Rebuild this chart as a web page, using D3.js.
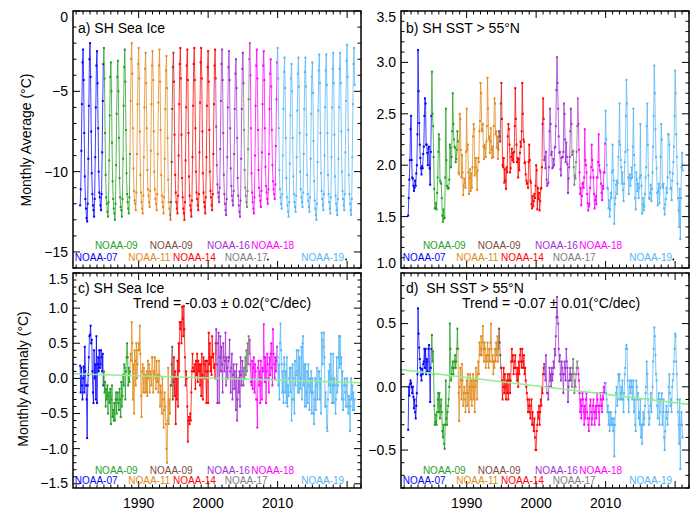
<!DOCTYPE html>
<html>
<head>
<meta charset="utf-8">
<script src="https://cdn.jsdelivr.net/npm/d3@7"></script>
<style>
 html,body{margin:0;padding:0;background:#fff;}
 svg{display:block;}
 text{font-family:"Liberation Sans", Arial, Helvetica, sans-serif; fill:#000;}
</style>
</head>
<body>
<svg width="697" height="515"></svg>
<script>
// ---------------- DATA ----------------
// monthly series, first value = Aug 1981, last value = Feb 2021
const startYear = 1981, startMonth = 8;

const iceAbs = [
 -12.1,-11.1,-8.7,-5.8,-3.2,
 -2.4,-4.3,-7.6,-10.3,-11.7,-12.3,-12.9,-13.1,-12.0,-9.2,-5.9,-3.0,
 -2.0,-4.1,-7.5,-10.1,-11.4,-12.1,-12.4,-12.8,-11.7,-9.1,-6.0,-3.4,
 -2.5,-4.5,-7.3,-10.0,-11.3,-11.6,-12.1,-12.4,-11.4,-8.8,-5.6,-3.3,
 -2.3,-4.2,-7.6,-10.2,-11.6,-12.0,-12.5,-12.8,-11.9,-9.3,-6.5,-4.1,
 -3.2,-5.0,-8.2,-10.6,-11.7,-12.3,-12.6,-13.0,-12.0,-9.6,-6.4,-4.1,
 -3.1,-5.0,-7.9,-10.4,-11.6,-12.2,-12.4,-12.8,-11.7,-9.2,-5.9,-3.5,
 -2.4,-4.4,-7.4,-10.1,-11.4,-11.9,-12.3,-12.6,-11.6,-8.9,-5.6,-3.0,
 -2.0,-3.9,-7.3,-9.8,-11.2,-11.8,-12.0,-12.4,-11.3,-8.9,-5.8,-3.3,
 -2.3,-4.2,-7.5,-10.2,-11.3,-11.9,-12.3,-12.6,-11.5,-9.1,-6.0,-3.6,
 -2.6,-4.5,-7.3,-9.9,-11.1,-11.5,-11.9,-12.2,-11.2,-8.7,-5.8,-3.4,
 -2.5,-4.3,-7.5,-10.0,-11.1,-11.7,-12.0,-12.4,-11.4,-8.9,-5.7,-3.4,
 -2.4,-4.4,-7.4,-10.2,-11.5,-11.9,-12.2,-12.6,-11.6,-9.2,-6.1,-3.7,
 -2.8,-4.8,-7.9,-10.5,-11.9,-12.3,-12.7,-13.0,-11.9,-9.4,-6.1,-3.5,
 -2.6,-4.4,-7.7,-10.2,-11.3,-11.9,-12.3,-12.6,-11.5,-9.0,-5.8,-3.3,
 -2.3,-4.2,-7.7,-10.4,-11.6,-12.3,-12.6,-13.0,-11.9,-9.3,-6.0,-3.4,
 -2.4,-4.3,-7.6,-10.3,-11.5,-12.1,-12.4,-12.8,-11.8,-9.1,-5.9,-3.3,
 -2.3,-4.3,-7.3,-10.0,-11.3,-11.7,-12.1,-12.4,-11.4,-8.8,-5.7,-3.2,
 -2.3,-4.2,-7.5,-10.1,-11.3,-11.9,-12.2,-12.6,-11.6,-9.1,-5.9,-3.5,
 -2.5,-4.4,-7.4,-10.0,-11.2,-11.6,-12.1,-12.4,-11.4,-8.9,-5.8,-3.4,
 -2.4,-4.2,-7.2,-9.6,-10.8,-11.3,-11.6,-11.9,-11.0,-8.6,-5.6,-3.3,
 -2.4,-4.3,-7.6,-10.2,-11.4,-12.0,-12.4,-12.7,-11.7,-9.1,-6.0,-3.5,
 -2.5,-4.3,-7.3,-9.8,-10.9,-11.5,-11.8,-12.1,-11.2,-8.9,-6.1,-3.9,
 -3.0,-4.8,-7.9,-10.4,-11.5,-12.1,-12.5,-12.8,-11.8,-9.2,-6.1,-3.6,
 -2.6,-4.5,-7.4,-9.9,-11.0,-11.5,-11.9,-12.2,-11.2,-8.6,-5.5,-3.0,
 -2.0,-4.0,-7.3,-10.1,-11.3,-11.9,-12.3,-12.6,-11.6,-9.0,-5.9,-3.4,
 -2.4,-4.2,-7.4,-9.9,-11.0,-11.5,-11.8,-12.2,-11.2,-8.8,-5.8,-3.4,
 -2.5,-4.3,-7.3,-9.7,-10.9,-11.3,-11.7,-12.0,-11.1,-8.9,-6.1,-3.9,
 -3.0,-4.7,-7.4,-9.6,-10.6,-11.1,-11.4,-11.7,-10.8,-8.4,-5.5,-3.2,
 -2.3,-4.2,-7.3,-9.9,-11.1,-11.6,-12.0,-12.3,-11.4,-9.0,-6.1,-3.8,
 -2.9,-4.8,-7.9,-10.4,-11.6,-12.1,-12.5,-12.8,-11.9,-9.5,-6.5,-4.2,
 -3.3,-5.0,-7.9,-10.3,-11.4,-11.9,-12.2,-12.5,-11.5,-9.1,-6.2,-3.9,
 -2.9,-4.7,-7.6,-10.0,-11.1,-11.6,-11.9,-12.2,-11.3,-8.9,-6.1,-3.8,
 -2.9,-4.7,-7.7,-10.2,-11.4,-11.8,-12.2,-12.5,-11.6,-9.2,-6.4,-4.1,
 -3.2,-5.1,-8.1,-10.6,-11.8,-12.3,-12.7,-13.0,-12.0,-9.4,-6.2,-3.7,
 -2.7,-4.5,-7.6,-10.1,-11.2,-11.7,-12.1,-12.4,-11.4,-9.0,-6.0,-3.7,
 -2.7,-4.6,-7.6,-10.2,-11.4,-11.9,-12.3,-12.6,-11.6,-9.1,-6.0,-3.6,
 -2.6,-4.5,-7.7,-10.3,-11.5,-12.0,-12.4,-12.7,-11.7,-9.2,-6.0,-3.6,
 -2.6,-4.5,-7.5,-10.0,-11.2,-11.7,-12.1,-12.4,-11.4,-8.8,-5.6,-3.1,
 -2.1,-4.1,-7.4,-10.2,-11.4,-12.0,-12.4,-12.7,-11.7,-9.1,-5.8,-3.3,
 -2.3,-4.6
];

const sstAbs = [
 1.51,1.68,1.86,2.05,2.35,
 2.48,2.05,1.88,1.87,1.80,1.75,1.78,1.85,1.80,1.92,2.00,2.30,
 3.12,2.72,2.41,2.20,2.07,1.97,1.91,1.99,1.97,2.11,2.18,2.48,
 2.65,2.60,2.20,2.20,2.12,2.00,2.16,2.18,1.97,1.81,2.13,2.48,
 2.91,2.50,2.38,2.08,1.77,1.58,1.58,1.63,1.57,1.73,1.88,2.13,
 2.30,2.25,1.85,1.83,1.82,1.68,1.51,1.45,1.57,1.48,1.49,1.88,
 2.55,2.05,1.80,1.78,1.77,1.78,1.86,2.20,2.17,1.98,2.08,2.33,
 2.70,2.40,2.25,2.18,2.17,2.03,2.06,2.15,2.33,2.23,1.93,1.91,
 2.50,2.45,2.15,1.88,2.10,1.93,1.71,1.80,1.87,1.83,1.78,2.13,
 2.55,2.15,2.20,1.93,1.72,1.88,1.96,1.75,1.92,1.78,1.98,2.28,
 2.40,2.35,1.90,1.98,2.07,1.93,1.76,1.95,2.07,2.03,2.33,2.43,
 2.80,2.70,2.35,2.33,2.40,2.18,2.06,2.20,2.17,2.08,2.23,2.38,
 2.85,2.55,2.25,2.28,2.12,2.23,2.36,2.15,2.07,2.18,2.08,2.38,
 2.65,2.60,2.30,2.33,2.17,2.28,2.06,2.15,2.33,2.28,2.23,2.60,
 2.80,2.45,2.00,1.98,2.07,1.83,1.96,1.85,1.77,1.98,1.93,2.28,
 2.40,2.35,2.20,1.93,1.97,2.08,2.16,2.05,2.12,2.03,2.13,2.38,
 2.75,2.45,2.20,2.03,2.07,1.88,2.06,1.95,2.12,2.23,2.18,2.33,
 2.80,2.50,2.25,2.23,2.02,2.03,1.91,1.85,1.82,1.83,1.78,2.03,
 2.20,2.05,1.85,1.83,1.62,1.58,1.70,1.60,1.65,1.72,1.68,1.80,
 2.00,1.95,1.57,1.78,1.67,1.73,1.56,1.65,1.77,1.78,1.98,2.40,
 2.65,2.45,2.05,2.08,1.97,2.13,1.86,1.80,1.82,1.83,1.98,2.33,
 2.55,2.40,2.10,2.13,1.97,1.98,2.06,2.00,2.17,2.18,2.38,2.73,
 3.05,2.80,2.55,2.28,2.12,2.13,1.96,1.90,2.07,2.08,2.08,2.13,
 2.60,2.50,2.25,2.03,2.22,2.08,2.01,1.73,1.87,1.98,2.08,2.33,
 2.55,2.40,2.10,2.13,2.14,1.98,1.81,1.90,1.87,2.03,2.13,2.38,
 2.65,2.40,2.15,1.93,1.72,1.78,1.61,1.70,1.82,1.83,1.78,1.88,
 2.35,2.05,2.00,1.93,1.72,1.63,1.56,1.60,1.62,1.78,1.88,1.98,
 2.20,2.05,1.95,1.88,1.72,1.58,1.66,1.70,1.62,1.88,1.88,2.03,
 2.30,2.00,1.95,1.93,1.82,1.73,1.66,1.80,1.77,1.93,1.93,2.21,
 2.53,2.25,2.00,1.78,1.77,1.58,1.66,1.50,1.57,1.73,1.68,1.93,
 2.20,1.95,1.85,1.43,1.62,1.68,1.81,1.85,1.72,1.83,2.08,2.23,
 2.60,2.20,2.05,1.98,1.82,1.93,1.76,1.65,1.82,2.03,2.13,2.48,
 2.83,2.60,2.15,1.88,1.72,1.88,1.91,1.80,1.87,1.98,1.88,2.18,
 2.55,2.10,2.00,1.68,1.57,1.93,1.86,1.75,1.82,1.68,1.78,1.88,
 2.40,1.90,1.80,1.53,1.62,1.68,1.56,1.60,1.72,1.88,1.98,2.38,
 2.60,2.20,1.90,1.68,1.67,1.73,1.81,1.65,1.77,1.93,2.18,2.48,
 2.97,2.70,2.35,2.08,1.97,1.73,1.61,1.75,1.82,1.63,1.78,2.08,
 2.40,2.25,1.80,1.78,1.82,1.58,1.52,1.62,1.67,1.78,1.73,1.88,
 2.30,2.30,2.20,1.93,1.77,1.78,1.66,1.85,1.92,2.03,2.18,2.48,
 2.92,2.70,2.30,2.08,1.82,1.68,1.56,1.40,1.77,1.28,1.68,1.98,
 2.12,1.95
];

const iceAnom = [
 0.18,-0.2,0.15,-0.1,-0.3,
 0.0,0.17,-0.2,0.45,0.1,-0.1,-0.3,-0.85,-0.1,0.05,0.3,0.6,
 0.62,0.75,0.5,0.55,0.1,-0.2,-0.35,0.4,0.0,0.2,-0.3,0.6,
 -0.35,0.2,0.3,0.1,0.4,0.15,0.2,0.4,0.3,0.1,0.35,-0.1,
 0.1,-0.2,-0.05,-0.4,-0.15,-0.3,-0.1,-0.5,-0.25,-0.2,-0.35,-0.15,
 -0.65,-0.3,-0.1,-0.55,-0.45,-0.6,-0.35,-0.6,-0.3,-0.2,-0.5,-0.3,
 -0.2,-0.35,-0.45,-0.15,-0.3,-0.55,-0.05,-0.4,-0.25,0.05,-0.1,0.2,
 0.15,-0.3,0.1,0.3,0.5,0.3,-0.1,0.15,-0.05,0.1,0.35,0.25,
 0.8,0.5,-0.3,0.2,-0.5,0.4,0.25,-0.1,0.5,0.0,0.2,0.4,
 0.5,0.4,0.75,0.35,-0.25,-0.55,0.1,0.2,-0.2,0.15,0.05,-0.2,
 0.05,-0.2,0.1,-0.25,0.25,0.0,0.2,-0.2,0.1,0.05,-0.1,0.3,
 0.3,-0.2,0.1,0.05,0.3,0.0,-0.15,0.25,-0.05,0.05,-0.2,0.25,
 0.05,-0.4,-0.1,-0.2,-0.5,0.0,-0.3,-0.7,-0.45,-0.2,-0.4,-0.65,
 -1.0,-1.2,-0.6,0.15,-0.65,-0.3,-0.5,-0.1,-0.1,0.2,0.45,-0.3,
 -0.05,0.3,-0.25,0.1,-0.65,0.0,-0.3,0.25,-0.4,0.5,0.1,0.8,
 0.7,0.8,0.5,1.02,0.85,0.6,1.03,0.7,0.3,-0.1,0.1,0.0,
 -0.4,-0.9,-0.6,-0.55,-0.65,-0.5,-0.6,-0.2,0.1,0.35,0.15,0.1,
 0.1,0.2,-0.15,0.25,0.05,0.35,-0.05,0.25,0.1,0.2,-0.1,0.2,
 -0.25,0.35,0.05,-0.3,0.3,0.2,0.0,0.25,0.1,-0.35,0.25,0.1,
 -0.35,0.65,0.2,0.5,0.1,0.3,0.05,0.6,0.3,0.35,0.15,0.2,
 0.0,0.5,0.7,0.2,-0.35,0.5,0.65,-0.35,0.3,0.6,0.1,0.45,
 0.2,-0.2,0.5,0.3,0.1,0.25,0.65,-0.1,0.3,0.15,0.0,0.25,
 0.3,0.55,0.1,-0.2,0.15,0.35,-0.3,0.05,0.2,-0.15,0.1,0.0,
 -0.45,0.2,-0.6,-0.3,0.0,-0.2,0.1,-0.4,0.3,0.05,-0.1,0.25,
 0.1,-0.1,0.15,0.0,0.3,0.05,0.4,0.1,0.5,0.2,0.6,0.35,
 0.55,0.2,-0.05,-0.1,0.25,-0.15,0.15,0.3,-0.2,0.2,0.1,-0.3,
 -0.3,-0.7,0.15,0.25,-0.1,0.1,-0.35,0.25,0.0,-0.3,0.15,0.1,
 0.77,0.3,-0.05,0.3,-0.35,0.1,0.35,0.2,0.0,-0.2,0.3,0.05,
 0.35,0.5,0.15,-0.1,0.7,0.35,0.2,0.0,0.3,0.1,0.25,0.45,
 0.3,-0.1,0.2,-0.3,0.5,0.78,0.4,0.2,-0.2,0.1,-0.35,0.3,
 0.2,-0.2,0.1,-0.35,0.3,-0.4,-0.1,-0.25,0.0,0.15,-0.2,0.15,
 -0.6,-0.3,0.2,0.0,-0.3,-0.5,0.25,-0.1,0.05,0.4,0.1,-0.2,
 0.4,-0.2,0.3,-0.15,0.0,0.45,-0.3,0.5,0.6,-0.1,0.2,-0.4,
 0.2,-0.4,-0.2,0.1,-0.35,0.2,-0.1,-0.45,0.0,-0.2,0.1,-0.5,
 0.0,-0.2,-0.5,-0.65,-0.3,0.0,-0.45,-0.1,0.15,-0.3,-0.05,0.1,
 0.1,-0.3,0.0,-0.5,0.65,0.55,0.2,0.45,0.65,0.3,-0.4,-0.2,
 -0.4,-0.7,-0.75,-0.3,0.1,-0.1,0.2,-0.2,0.35,0.0,-0.35,-0.1,
 0.35,-0.35,0.0,-0.1,-0.5,-0.3,0.3,-0.2,-0.1,0.3,0.6,0.15,
 0.6,0.2,0.3,-0.3,0.1,-0.45,-0.3,-0.1,0.0,-0.2,-0.4,-0.1,
 0.0,-0.4,-0.5,-0.25,-0.3,-0.75,-0.4,0.0,-0.3,-0.1,-0.45,-0.2,
 -0.45,-0.3
];

const sstAnom = [
 -0.34,0.00,-0.07,0.02,0.05,
 0.03,0.00,-0.05,0.00,-0.08,-0.17,-0.10,-0.20,-0.25,-0.15,-0.05,0.10,
 0.62,0.42,0.31,0.22,0.15,0.09,0.05,0.14,0.10,0.18,0.20,0.30,
 0.15,0.30,0.10,0.22,0.20,0.12,0.30,0.33,0.10,-0.12,0.15,0.30,
 0.41,0.20,0.28,0.10,-0.15,-0.30,-0.28,-0.22,-0.30,-0.20,-0.10,-0.05,
 -0.20,-0.05,-0.25,-0.15,-0.10,-0.20,-0.35,-0.40,-0.30,-0.45,-0.49,-0.30,
 0.05,-0.25,-0.30,-0.20,-0.15,-0.10,0.00,0.50,0.30,0.05,0.10,0.15,
 0.20,0.10,0.15,0.20,0.25,0.15,0.20,0.30,0.46,0.30,-0.05,-0.27,
 0.00,0.15,0.05,-0.10,0.18,0.05,-0.15,-0.05,0.00,-0.10,-0.20,-0.05,
 0.05,-0.15,0.10,-0.05,-0.20,0.00,0.10,-0.10,0.05,-0.15,0.00,0.10,
 -0.10,0.05,-0.20,0.00,0.15,0.05,-0.10,0.10,0.20,0.10,0.35,0.25,
 0.30,0.40,0.25,0.35,0.48,0.30,0.20,0.35,0.30,0.15,0.25,0.20,
 0.35,0.25,0.15,0.30,0.20,0.35,0.50,0.30,0.20,0.25,0.10,0.20,
 0.15,0.30,0.20,0.35,0.25,0.40,0.20,0.30,0.46,0.35,0.25,0.15,
 0.15,0.05,-0.10,0.00,0.15,-0.05,0.10,0.00,-0.10,0.05,-0.05,0.10,
 -0.10,0.05,0.10,-0.05,0.05,0.20,0.30,0.20,0.25,0.10,0.15,0.20,
 0.25,0.15,0.10,0.05,0.15,0.00,0.20,0.10,0.25,0.30,0.20,0.15,
 0.30,0.20,0.15,0.25,0.10,0.15,0.05,0.00,-0.05,-0.10,-0.20,-0.15,
 -0.10,-0.20,-0.25,-0.15,-0.10,-0.30,-0.20,-0.30,-0.35,-0.25,-0.40,-0.50,
 -0.50,-0.35,-0.30,-0.20,-0.25,-0.15,-0.30,-0.20,-0.10,-0.15,0.00,-0.05,
 0.10,0.15,0.18,0.10,0.05,0.25,0.00,-0.05,-0.05,-0.10,0.00,0.15,
 0.05,0.10,0.00,0.15,0.05,0.10,0.20,0.15,0.30,0.25,0.40,0.55,
 0.71,0.55,0.50,0.30,0.20,0.25,0.10,0.05,0.20,0.15,0.10,-0.05,
 0.10,0.20,0.15,0.05,0.30,0.20,0.15,-0.12,0.00,0.05,0.10,0.15,
 0.05,0.10,0.00,0.15,0.22,0.10,-0.05,0.05,0.00,0.10,0.15,0.20,
 0.15,0.10,0.05,-0.05,-0.20,-0.10,-0.25,-0.15,-0.05,-0.10,-0.20,-0.30,
 -0.15,-0.25,-0.10,-0.05,-0.20,-0.25,-0.30,-0.35,-0.25,-0.15,-0.10,-0.20,
 -0.30,-0.25,-0.15,-0.10,-0.20,-0.30,-0.20,-0.15,-0.25,-0.05,-0.10,-0.15,
 -0.20,-0.30,-0.15,-0.05,-0.10,-0.15,-0.20,-0.05,-0.10,0.00,-0.05,0.03,
 0.03,-0.05,-0.10,-0.20,-0.15,-0.30,-0.20,-0.35,-0.30,-0.20,-0.30,-0.25,
 -0.30,-0.35,-0.25,-0.55,-0.30,-0.20,-0.05,0.00,-0.15,-0.10,0.10,0.05,
 0.10,-0.10,-0.05,0.00,-0.10,0.05,-0.10,-0.20,-0.05,0.10,0.15,0.30,
 0.33,0.30,0.05,-0.10,-0.20,0.00,0.05,-0.05,0.00,0.05,-0.10,0.00,
 0.05,-0.20,-0.10,-0.30,-0.35,0.05,0.00,-0.10,-0.05,-0.25,-0.20,-0.30,
 -0.10,-0.40,-0.30,-0.45,-0.30,-0.20,-0.30,-0.25,-0.15,-0.05,0.00,0.20,
 0.10,-0.10,-0.20,-0.30,-0.25,-0.15,-0.05,-0.20,-0.10,0.00,0.20,0.30,
 0.47,0.40,0.25,0.10,0.05,-0.15,-0.25,-0.10,-0.05,-0.30,-0.20,-0.10,
 -0.10,-0.05,-0.30,-0.20,-0.10,-0.40,-0.50,-0.35,-0.20,-0.15,-0.25,-0.30,
 -0.20,0.00,0.10,-0.05,-0.15,-0.10,-0.20,0.00,0.05,0.10,0.20,0.30,
 0.42,0.40,0.20,0.10,-0.10,-0.20,-0.30,-0.45,-0.10,-0.65,-0.30,-0.20,
 -0.30,-0.40
];

// satellites (in time order) and the first month each one covers
const satNames  = ["NOAA-07","NOAA-09","NOAA-11","NOAA-09","NOAA-14","NOAA-16","NOAA-17","NOAA-18","NOAA-19"];
const satStart  = ["1981-08","1985-01","1988-11","1994-09","1995-02","2001-03","2005-03","2006-02","2010-01"];
const satColors = ["#0000ff","#1f9f1f","#e0891c","#7b4b3d","#ff0000","#a030d2","#808080","#ff00ff","#55b5f5"];

// trend fits (value at the two ends of the time axis)
const trendYears = [1980.55, 2022.0];
const iceTrend = [0.067, -0.062];
const sstTrend = [0.136, -0.139];
const iceTrendText = "Trend = -0.03 \u00b1 0.02(\u00b0C/dec)";
const sstTrendText = "Trend = -0.07 \u00b1 0.01(\u00b0C/dec)";

const yearLabels = [1990, 2000, 2010];

// ---------------- LAYOUT ----------------
const xDomain = [1980.55, 2022.0];
const labelYear = [1980.8, 1983.7, 1988.5, 1991.6, 1994.95, 1999.85, 2002.4, 2006.2, 2013.4];
const labelRow  = [1, 0, 1, 0, 1, 0, 1, 0, 1];

const panels = [
 {key:"a", data:iceAbs, x0:73, x1:361, y0:11, y1:268, dom:[-16,0], major:5, minor:1, dec:0,
  title:"a) SH Sea Ice", titleY:33, rows:[249,260.5], ytitle:"Monthly Average (\u00b0C)", ytX:31, ytY:140, dots:[2008.6,2019.85]},
 {key:"b", data:sstAbs, x0:401, x1:689, y0:11, y1:268, dom:[1,3.5], major:0.5, minor:0.1, dec:1,
  title:"b) SH SST > 55\u00b0N", titleY:33, rows:[249,260.5], dots:[2019.75]},
 {key:"c", data:iceAnom, x0:73, x1:361, y0:273, y1:488, dom:[-1.56,1.5], major:0.5, minor:0.1, dec:1,
  title:"c) SH Sea Ice", titleY:293, rows:[474,484], ytitle:"Monthly Anomaly (\u00b0C)", ytX:28, ytY:379,
  trend:iceTrend, trendText:iceTrendText, trendX:222, xlabels:true},
 {key:"d", data:sstAnom, x0:401, x1:689, y0:273, y1:488, dom:[-0.8,0.9], major:0.5, minor:0.1, dec:1,
  title:"d)\u00a0\u00a0SH SST > 55\u00b0N", titleY:293, rows:[474,484],
  trend:sstTrend, trendText:sstTrendText, trendX:551, xlabels:true}
];

// ---------------- DRAW ----------------
const svg = d3.select("svg");
const monthIndex = s => { const p = s.split("-").map(Number); return (p[0]-startYear)*12 + (p[1]-startMonth); };
const segStart = satStart.map(monthIndex);
const tOf = i => startYear + (startMonth - 1 + i) / 12;

panels.forEach(p => {
  const x = d3.scaleLinear().domain(xDomain).range([p.x0, p.x1]);
  const y = d3.scaleLinear().domain(p.dom).range([p.y1, p.y0]);
  const g = svg.append("g");

  const clipId = "clip-" + p.key;
  svg.append("clipPath").attr("id", clipId).append("rect")
    .attr("x", p.x0).attr("y", p.y0).attr("width", p.x1 - p.x0).attr("height", p.y1 - p.y0);
  const dg = g.append("g").attr("clip-path", `url(#${clipId})`);

  const line = d3.line().x(i => x(tOf(i))).y(i => y(p.data[i]));
  satNames.forEach((name, k) => {
    const s = segStart[k];
    const e = Math.min(k + 1 < segStart.length ? segStart[k+1] : p.data.length, p.data.length);
    const idx = d3.range(Math.max(0, s - 1), e);
    dg.append("path").datum(idx).attr("d", line)
      .attr("fill", "none").attr("stroke", satColors[k])
      .attr("stroke-width", 1).attr("stroke-opacity", 0.75);
    dg.append("g").selectAll("rect").data(d3.range(s, e)).join("rect")
      .attr("x", i => x(tOf(i)) - 1).attr("y", i => y(p.data[i]) - 1)
      .attr("width", 2).attr("height", 2).attr("fill", satColors[k]);
  });

  if (p.trend) {
    dg.append("line")
      .attr("x1", x(trendYears[0])).attr("y1", y(p.trend[0]))
      .attr("x2", x(trendYears[1])).attr("y2", y(p.trend[1]))
      .attr("stroke", "#93ee93").attr("stroke-width", 1.6);
    g.append("text").attr("x", p.trendX).attr("y", 308).attr("text-anchor", "middle")
      .attr("font-size", 14).text(p.trendText);
  }

  // axes ticks (IDL style, all four sides)
  const ax = g.append("g").attr("stroke", "#000").attr("stroke-width", 1);
  const kLo = Math.ceil(p.dom[0] / p.minor - 1e-6), kHi = Math.floor(p.dom[1] / p.minor + 1e-6);
  const fmt = p.dec === 0 ? d3.format("d") : d3.format(".1f");
  for (let k = kLo; k <= kHi; k++) {
    const v = k * p.minor;
    const isMajor = Math.abs(v / p.major - Math.round(v / p.major)) < 1e-6;
    const L = isMajor ? 7 : 3.5, yy = y(v);
    ax.append("line").attr("x1", p.x0).attr("x2", p.x0 + L).attr("y1", yy).attr("y2", yy);
    ax.append("line").attr("x1", p.x1).attr("x2", p.x1 - L).attr("y1", yy).attr("y2", yy);
    if (isMajor) {
      const ly = Math.min(Math.max(yy, p.y0 + 6), p.y1 - 5);
      g.append("text").attr("x", p.x0 - 5).attr("y", ly).attr("dy", "0.35em")
        .attr("text-anchor", "end").attr("font-size", 14)
        .text(fmt(Math.round(v * 100) / 100));
    }
  }
  for (let yr = Math.ceil(xDomain[0]); yr <= Math.floor(xDomain[1]); yr++) {
    const L = yr % 10 === 0 ? 7 : 3.5, xx = x(yr);
    ax.append("line").attr("x1", xx).attr("x2", xx).attr("y1", p.y1).attr("y2", p.y1 - L);
    ax.append("line").attr("x1", xx).attr("x2", xx).attr("y1", p.y0).attr("y2", p.y0 + L);
  }
  g.append("rect").attr("x", p.x0).attr("y", p.y0).attr("width", p.x1 - p.x0).attr("height", p.y1 - p.y0)
    .attr("fill", "none").attr("stroke", "#000").attr("stroke-width", 1.5);

  if (p.xlabels) {
    yearLabels.forEach(yr => {
      g.append("text").attr("x", x(yr)).attr("y", 508).attr("text-anchor", "middle")
        .attr("font-size", 14).text(yr);
    });
  }

  // panel title
  g.append("text").attr("x", p.x0 + 5).attr("y", p.titleY).attr("font-size", 14).text(p.title);

  // satellite labels
  satNames.forEach((name, k) => {
    g.append("text").attr("x", x(labelYear[k])).attr("y", p.rows[labelRow[k]])
      .attr("font-size", 10).style("fill", satColors[k]).text(name);
  });
  (p.dots || []).forEach(yr => {
    g.append("circle").attr("cx", x(yr)).attr("cy", p.rows[1] - 1).attr("r", 0.9).attr("fill", "#000");
  });

  if (p.ytitle) {
    g.append("text").attr("transform", `translate(${p.ytX},${p.ytY}) rotate(-90)`)
      .attr("text-anchor", "middle").attr("font-size", 14).text(p.ytitle);
  }
});
</script>
</body>
</html>
